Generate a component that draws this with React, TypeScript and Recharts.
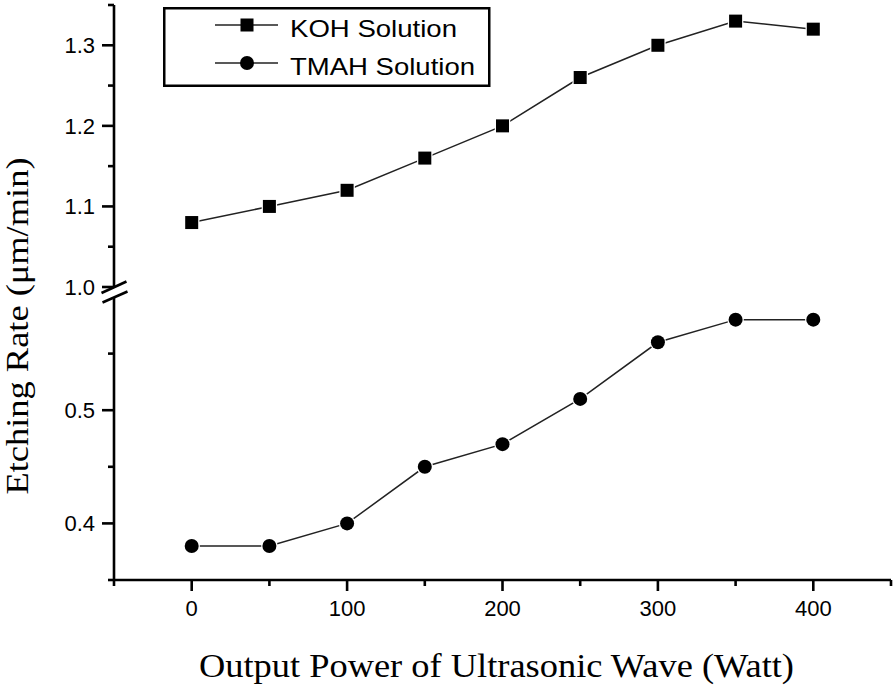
import React from 'react';
import { LineChart, Line, XAxis, YAxis, Legend } from 'recharts';

// ---- data ----
const powers = [0, 50, 100, 150, 200, 250, 300, 350, 400];
const kohRates = [1.08, 1.1, 1.12, 1.16, 1.2, 1.26, 1.3, 1.33, 1.32];
const tmahRates = [0.38, 0.38, 0.4, 0.45, 0.47, 0.51, 0.56, 0.58, 0.58];
const seriesNames = ['KOH Solution', 'TMAH Solution'];

const xTicks = [-50, 0, 50, 100, 150, 200, 250, 300, 350, 400, 450];
const xTickLabels = ['', '0', '', '100', '', '200', '', '300', '', '400', ''];
const topYTicks = [1.0, 1.05, 1.1, 1.15, 1.2, 1.25, 1.3, 1.35];
const topYTickLabels = ['1.0', '', '1.1', '', '1.2', '', '1.3', ''];
const bottomYTicks = [0.35, 0.4, 0.45, 0.5, 0.55];
const bottomYTickLabels = ['', '0.4', '', '0.5', ''];

const xTitle = 'Output Power of Ultrasonic Wave (Watt)';
const yTitle = 'Etching Rate (\u03bcm/min)';

const kohData = powers.map((p, i) => ({ power: p, koh: kohRates[i] }));
const tmahData = powers.map((p, i) => ({ power: p, tmah: tmahRates[i] }));

// ---- styling ----
const SANS = '"Liberation Sans", Arial, sans-serif';
const SERIF = '"Liberation Serif", "Times New Roman", serif';
const W = 900;
const H = 691;
const Y_TS = 12;
const Y_TM = 7;
const X_TS = 11;
const X_TM = 9;
const AXW = 2.6;
const axisStyle = { stroke: '#000', strokeWidth: AXW };

const findIdx = (ticks: number[], v: number) => ticks.findIndex((t) => Math.abs(t - v) < 1e-9);

const YTick = (props: any) => {
  const { x, y, payload, labels, tickVals, breakMark } = props;
  const idx = findIdx(tickVals, payload.value);
  const label = idx >= 0 ? labels[idx] : '';
  const ax = x + Y_TS + Y_TM;
  const len = label ? 12 : 6;
  return (
    <g>
      <line x1={ax - len} x2={ax} y1={y} y2={y} stroke="#000" strokeWidth={AXW} />
      {label ? (
        <text x={x} y={y} dy="0.36em" textAnchor="end" fontFamily={SANS} fontSize={22} fill="#000">
          {label}
        </text>
      ) : null}
      {breakMark && idx === 0 ? (
        <g stroke="#000" strokeWidth={2.6}>
          <line x1={ax - 12.5} y1={y + 6} x2={ax + 12.5} y2={y - 5.5} />
          <line x1={ax - 11.5} y1={y + 15.5} x2={ax + 13.5} y2={y + 4.5} />
        </g>
      ) : null}
    </g>
  );
};

const XTick = (props: any) => {
  const { x, y, payload } = props;
  const idx = findIdx(xTicks, payload.value);
  const label = idx >= 0 ? xTickLabels[idx] : '';
  const ay = y - X_TS - X_TM;
  const len = label ? 11 : 6;
  return (
    <g>
      <line x1={x} x2={x} y1={ay} y2={ay + len} stroke="#000" strokeWidth={AXW} />
      {label ? (
        <text x={x} y={y} dy="0.72em" textAnchor="middle" fontFamily={SANS} fontSize={22} fill="#000">
          {label}
        </text>
      ) : null}
    </g>
  );
};

const SquareDot = (p: any) => {
  if (p.cx == null || p.cy == null) return <g key={p.index} />;
  return (
    <rect
      key={p.index}
      x={p.cx - 6.5}
      y={p.cy - 6.5}
      width={13}
      height={13}
      fill="#000"
      stroke="#fff"
      strokeWidth={2.5}
      paintOrder="stroke"
    />
  );
};

const CircleDot = (p: any) => {
  if (p.cx == null || p.cy == null) return <g key={p.index} />;
  return <circle key={p.index} cx={p.cx} cy={p.cy} r={7} fill="#000" stroke="#fff" strokeWidth={2.5} paintOrder="stroke" />;
};

const LegendBox = () => {
  const rows = [
    { name: seriesNames[0], y: 18, ty: 30, len: 167, shape: 'square' },
    { name: seriesNames[1], y: 56, ty: 68, len: 185, shape: 'circle' },
  ];
  return (
    <svg width={328} height={80} style={{ display: 'block' }}>
      <rect x={1.25} y={1.25} width={325} height={77.5} fill="#fff" stroke="#000" strokeWidth={2.5} />
      {rows.map((r) => (
        <g key={r.name}>
          <line x1={52} x2={115} y1={r.y} y2={r.y} stroke="#222" strokeWidth={1.5} />
          {r.shape === 'square' ? (
            <rect x={84 - 6.5} y={r.y - 6.5} width={13} height={13} fill="#000" />
          ) : (
            <circle cx={84} cy={r.y} r={7} fill="#000" />
          )}
          <text
            x={127}
            y={r.ty}
            fontFamily={SANS}
            fontSize={24}
            fill="#000"
            textLength={r.len}
            lengthAdjust="spacingAndGlyphs"
          >
            {r.name}
          </text>
        </g>
      ))}
    </svg>
  );
};

const YTitle = (props: any) => {
  const vb = props.viewBox || { x: 0 };
  const cx = vb.x + 28;
  const cy = 326;
  return (
    <text
      x={cx}
      y={cy}
      transform={`rotate(-90, ${cx}, ${cy})`}
      textAnchor="middle"
      fontFamily={SERIF}
      fontSize={32}
      fill="#000"
      textLength={337}
      lengthAdjust="spacingAndGlyphs"
    >
      {yTitle}
    </text>
  );
};

const XTitle = (props: any) => {
  const vb = props.viewBox || { x: 0, y: 0, width: 0 };
  const cx = vb.x + vb.width / 2 - 6;
  const cy = vb.y + 97;
  return (
    <text
      x={cx}
      y={cy}
      textAnchor="middle"
      fontFamily={SERIF}
      fontSize={33}
      fill="#000"
      textLength={595}
      lengthAdjust="spacingAndGlyphs"
    >
      {xTitle}
    </text>
  );
};

export default function App() {
  return (
    <div
      style={{
        position: 'absolute',
        left: 0,
        top: 0,
        width: 896,
        height: 691,
        overflow: 'hidden',
        background: '#fff',
      }}
    >
      <div style={{ position: 'absolute', left: 0, top: 0 }}>
        <LineChart width={W} height={H} data={kohData} margin={{ top: 5, right: 9, bottom: 404, left: 0 }}>
          <XAxis dataKey="power" type="number" domain={[-50, 450]} ticks={xTicks} hide />
          <YAxis
            type="number"
            domain={[1.0, 1.35]}
            ticks={topYTicks}
            interval={0}
            allowDataOverflow
            width={114}
            tickSize={Y_TS}
            tickMargin={Y_TM}
            tickLine={false}
            axisLine={axisStyle}
            tick={<YTick labels={topYTickLabels} tickVals={topYTicks} breakMark />}
            label={<YTitle />}
          />
          <Legend
            verticalAlign="middle"
            align="center"
            layout="horizontal"
            wrapperStyle={{ left: 163, top: 7, width: 328, height: 80 }}
            content={<LegendBox />}
          />
          <Line
            type="linear"
            dataKey="koh"
            name={seriesNames[0]}
            stroke="#222"
            strokeWidth={1.5}
            dot={SquareDot}
            activeDot={false}
            isAnimationActive={false}
          />
        </LineChart>
      </div>
      <div style={{ position: 'absolute', left: 0, top: 0 }}>
        <LineChart width={W} height={H} data={tmahData} margin={{ top: 297, right: 9, bottom: 0, left: 0 }}>
          <XAxis
            dataKey="power"
            type="number"
            domain={[-50, 450]}
            ticks={xTicks}
            interval={0}
            allowDataOverflow
            height={111}
            tickSize={X_TS}
            tickMargin={X_TM}
            tickLine={false}
            axisLine={axisStyle}
            tick={<XTick />}
            label={<XTitle />}
          />
          <YAxis
            type="number"
            domain={[0.35, 0.6]}
            ticks={bottomYTicks}
            interval={0}
            allowDataOverflow
            width={114}
            tickSize={Y_TS}
            tickMargin={Y_TM}
            tickLine={false}
            axisLine={axisStyle}
            tick={<YTick labels={bottomYTickLabels} tickVals={bottomYTicks} />}
          />
          <Line
            type="linear"
            dataKey="tmah"
            name={seriesNames[1]}
            stroke="#222"
            strokeWidth={1.5}
            dot={CircleDot}
            activeDot={false}
            isAnimationActive={false}
          />
        </LineChart>
      </div>
    </div>
  );
}
